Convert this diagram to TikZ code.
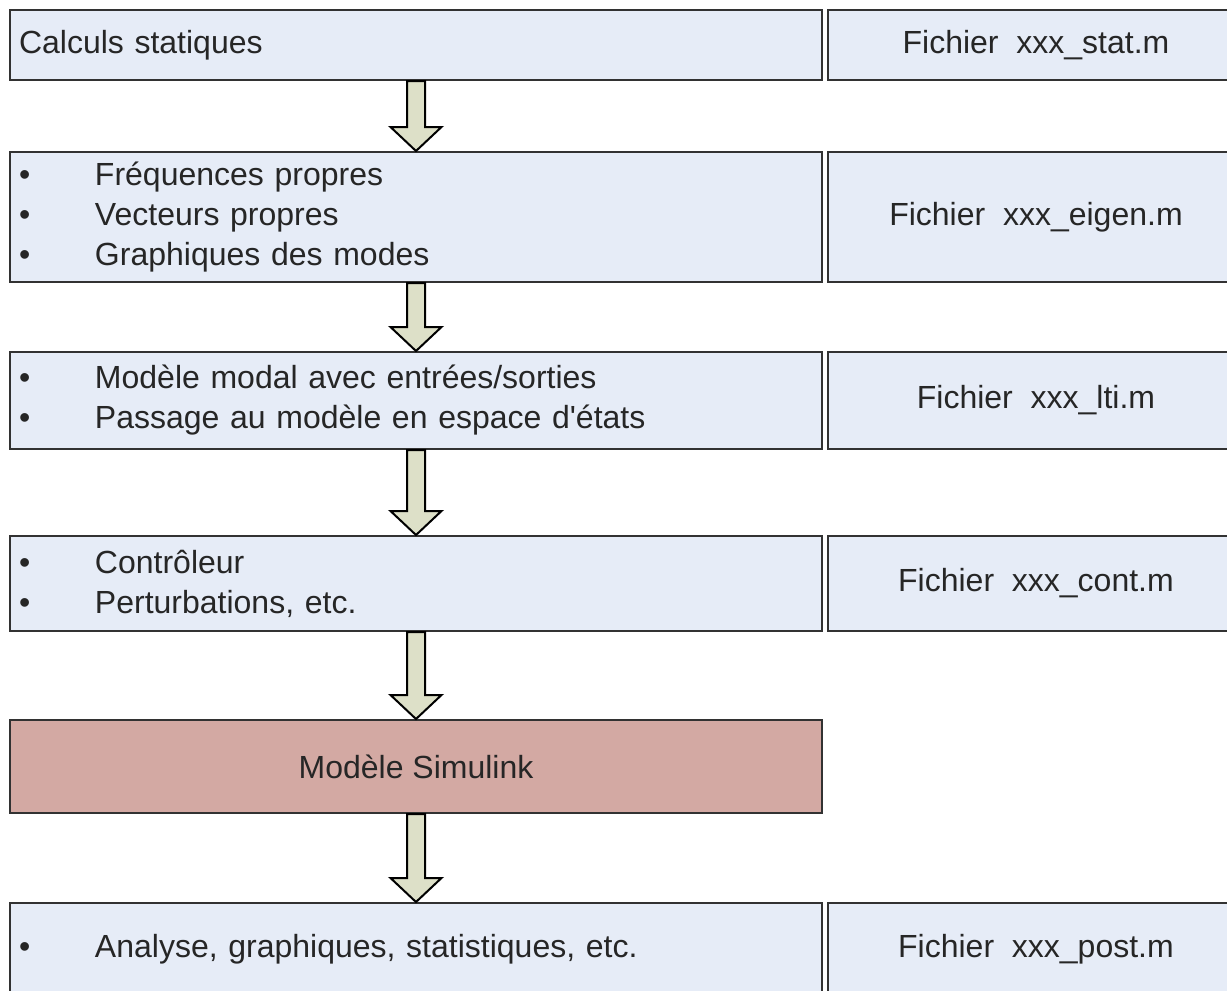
\documentclass[tikz,border=0pt]{standalone}
\usepackage{fontspec}
\setmainfont{Liberation Sans}
\usetikzlibrary{positioning,calc}

\definecolor{fondbleu}{RGB}{230,236,247}
\definecolor{fondrose}{RGB}{211,169,163}
\definecolor{fondfleche}{RGB}{221,224,200}
\definecolor{bord}{RGB}{50,50,50}

\tikzset{
  boite/.style={draw=bord, line width=1pt, fill=fondbleu, rectangle,
    inner xsep=4.5pt, inner ysep=0pt, text=black!85,
    font=\fontsize{16}{20}\selectfont},
  liste/.style={boite, text width=397pt, align=left},
  fichier/.style={boite, minimum width=208pt, align=center},
  fleche/.style={draw=black, line width=1pt, fill=fondfleche, line join=miter}
}

% bullet followed by the indent of the list text
\newcommand{\puce}{\makebox[38pt][l]{\textbullet}}

% block arrow from the bottom of one box to the top of the next
\newcommand{\fleche}[2]{%
  \draw[fleche] let \p1=(#1.south), \p2=(#2.north) in
    (\x1-4.5pt,\y1) -- (\x1-4.5pt,\y2+12pt) -- (\x1-12.75pt,\y2+12pt)
    -- (\x1,\y2) -- (\x1+12.75pt,\y2+12pt) -- (\x1+4.5pt,\y2+12pt)
    -- (\x1+4.5pt,\y1) -- cycle;}

\begin{document}
\begin{tikzpicture}[x=1pt, y=-1pt]
  \useasboundingbox (0,0) rectangle (613.5,495.5);
  \clip (0,0) rectangle (613.5,495.5);

  % Left column: the steps
  \node[liste, minimum height=35pt] (statique) at (208,22.5) {Calculs statiques};
  \node[liste, minimum height=65pt] (propres) at (208,108.5)
    {\puce Fréquences propres\\ \puce Vecteurs propres\\ \puce Graphiques des modes};
  \node[liste, minimum height=48.5pt] (lti) at (208,200.25)
    {\puce Modèle modal avec entrées/sorties\\ \puce Passage au modèle en espace d\textquotesingle états};
  \node[liste, minimum height=47.5pt] (controle) at (208,291.75)
    {\puce Contrôleur\\ \puce Perturbations, etc.};
  \node[boite, fill=fondrose, minimum width=406pt, minimum height=46.5pt] (simulink)
    at (208,383.25) {Modèle Simulink};
  \node[liste, minimum height=46pt] (post) at (208,474.5)
    {\puce Analyse, graphiques, statistiques, etc.};

  % Right column: the files
  \node[fichier, minimum height=35pt, right=2pt of statique] (fstat) {Fichier\ \ xxx\_stat.m};
  \node[fichier, minimum height=65pt, right=2pt of propres] (feigen) {Fichier\ \ xxx\_eigen.m};
  \node[fichier, minimum height=48.5pt, right=2pt of lti] (flti) {Fichier\ \ xxx\_lti.m};
  \node[fichier, minimum height=47.5pt, right=2pt of controle] (fcont) {Fichier\ \ xxx\_cont.m};
  \node[fichier, minimum height=46pt, right=2pt of post] (fpost) {Fichier\ \ xxx\_post.m};

  % Block arrows between the steps
  \fleche{statique}{propres}
  \fleche{propres}{lti}
  \fleche{lti}{controle}
  \fleche{controle}{simulink}
  \fleche{simulink}{post}
\end{tikzpicture}
\end{document}
